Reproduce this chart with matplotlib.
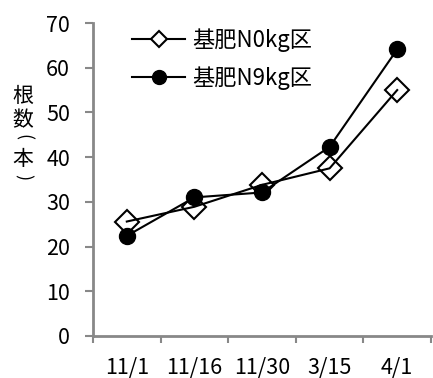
import matplotlib
matplotlib.use("Agg")
import matplotlib.pyplot as plt
from matplotlib.ticker import FixedLocator
from matplotlib.lines import Line2D

plt.rcParams['font.family'] = ['Noto Sans CJK JP', 'DejaVu Sans']

categories = ["11/1", "11/16", "11/30", "3/15", "4/1"]
n0 = [25.6, 28.9, 33.8, 37.5, 55.0]
n9 = [22.4, 31.0, 32.1, 42.3, 64.1]
labels = ["基肥N0kg区", "基肥N9kg区"]
yticks = [0, 10, 20, 30, 40, 50, 60, 70]
ylabel_chars = ["根", "数", "(", "本", ")"]

fig = plt.figure(figsize=(4.33, 3.78), dpi=100)
ax = fig.add_axes([93/433, 1-336/378, (431-93)/433, (336-23)/378])

x = list(range(len(categories)))
ax.plot(x, n0, color='black', lw=1.5, marker='D', ms=12.5, mfc='none', mec='black', mew=1.5, zorder=3)
ax.plot(x, n9, color='black', lw=1.5, marker='o', ms=11.5, mfc='black', mec='black', zorder=4)

ax.set_xlim(-0.5, len(categories) - 0.5)
ax.set_ylim(0, 70)
ax.set_yticks(yticks)
ax.set_xticks(x)
ax.set_xticklabels(categories)
ax.xaxis.set_minor_locator(FixedLocator([i - 0.5 for i in range(len(categories) + 1)]))
ax.tick_params(axis='x', which='major', length=0, pad=15, labelsize=15.5)
ax.tick_params(axis='x', which='minor', length=5, width=1.5, color='#888888', direction='out')
ax.tick_params(axis='y', length=5.5, width=1.5, color='#888888', direction='out', pad=11, labelsize=15.5)

for s in ['top', 'right']:
    ax.spines[s].set_visible(False)
for s in ['left', 'bottom']:
    ax.spines[s].set_color('#888888')
    ax.spines[s].set_linewidth(2)

ypix = [96, 120, 137, 159, 177]
for ch, yp in zip(ylabel_chars, ypix):
    if ch in "()":
        fig.text(23/433, 1-yp/378, ch, ha='center', va='center', fontsize=13, rotation=-90)
    else:
        fig.text(23/433, 1-yp/378, ch, ha='center', va='center', fontsize=15)

handles = [
    Line2D([], [], color='black', lw=1.5, marker='D', ms=8, mfc='white', mec='black', mew=1.5),
    Line2D([], [], color='black', lw=1.5, marker='o', ms=10, mfc='black', mec='black'),
]
leg = ax.legend(handles, labels, loc='center left', bbox_to_anchor=(132/433, 1-59/378), bbox_transform=fig.transFigure,
                frameon=False, fontsize=16, handlelength=2.4, handletextpad=0.3, labelspacing=0.65,
                borderpad=0, borderaxespad=0)

fig.savefig("out.png", dpi=100)
